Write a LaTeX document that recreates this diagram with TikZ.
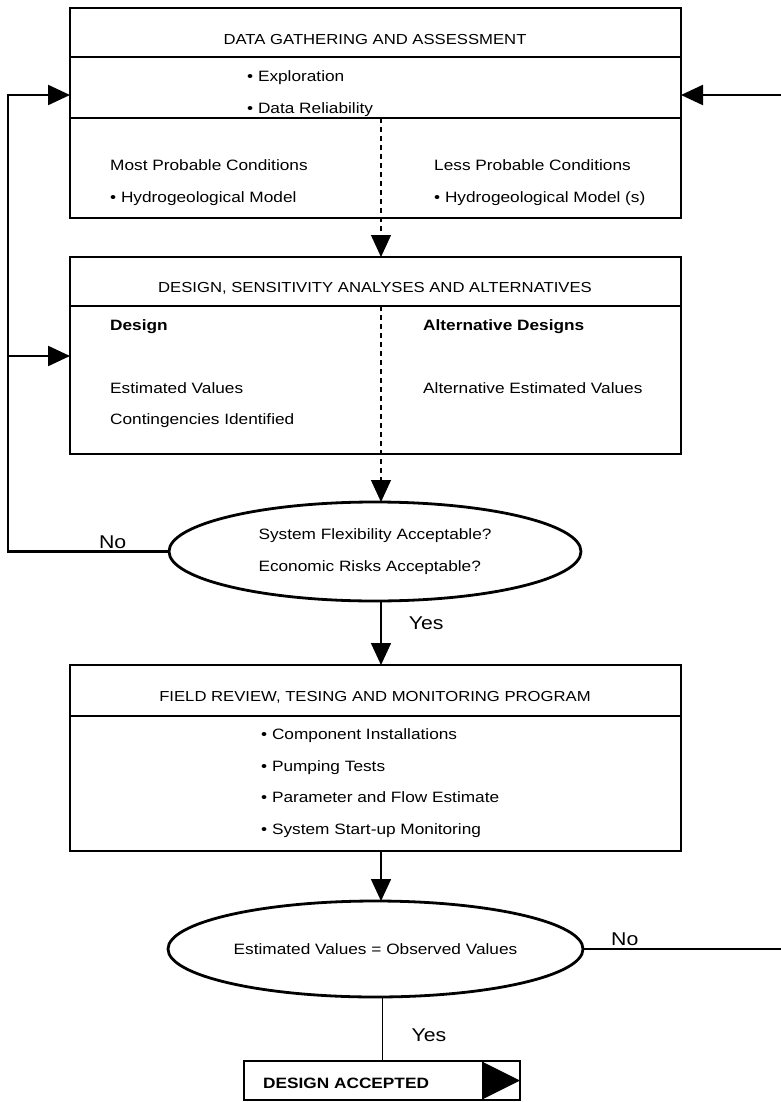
\documentclass[tikz,border=0pt]{standalone}
\usepackage{fontspec}
\setmainfont{Liberation Sans}[FakeStretch=1.15]
\usetikzlibrary{positioning, shapes.geometric, arrows.meta}
\tikzset{
    x=1pt, y=-1pt, % pixel-like units, y runs downwards
    box/.style={draw, line width=2.8pt, inner sep=0pt, outer sep=0pt}, % framed stages
    decision/.style={ellipse, draw, line width=2.8pt, inner sep=0pt, outer sep=0pt,
        align=left, font=\fontsize{15}{32}\selectfont}, % question ovals
    boxtitle/.style={anchor=base, font=\fontsize{14.5}{17}\selectfont}, % stage headings
    body/.style={anchor=base west, inner sep=0pt, font=\fontsize{15}{18}\selectfont}, % stage contents
    divider/.style={line width=1.4pt}, % lines inside a stage
    tip/.style={-{Triangle[length=22pt, width=20pt]}}, % filled arrowheads
    flow/.style={tip, line width=1.6pt},
    dashflow/.style={tip, line width=1.1pt, dash pattern=on 5pt off 4pt},
    rail/.style={line width=2.3pt}, % feedback loops
    answer/.style={font=\fontsize{18.5}{20}\selectfont, inner sep=2pt},
}

\begin{document}
\begin{tikzpicture}
    \useasboundingbox (0,0) rectangle (780,1102);

    % stages
    \node[box, minimum width=611pt, minimum height=210pt] (gather) at (375.5,113) {};
    \node[box, minimum width=611pt, minimum height=197pt] (design) at (375.5,355.5) {};
    \node[decision, minimum width=412pt, minimum height=99pt] (check) at (375,551.5)
        {System Flexibility Acceptable?\\Economic Risks Acceptable?};
    \node[box, minimum width=611pt, minimum height=186pt] (field) at (375.5,758) {};
    \node[decision, minimum width=415pt, minimum height=96pt] (verify) at (375.5,949)
        {Estimated Values = Observed Values};
    \node[box, line width=2.2pt, minimum width=276pt, minimum height=39pt] (accept) at (382,1080.5) {};

    \draw[divider] ([yshift=-49pt]gather.north west) -- ([yshift=-49pt]gather.north east);
    \draw[divider] ([yshift=-110pt]gather.north west) -- ([yshift=-110pt]gather.north east);
    \draw[divider] ([yshift=-49pt]design.north west) -- ([yshift=-49pt]design.north east);
    \draw[divider] ([yshift=-51pt]field.north west) -- ([yshift=-51pt]field.north east);
    \draw[divider, line width=1.5pt] ([xshift=-37pt]accept.north east) -- ([xshift=-37pt]accept.south east);
    \fill ([xshift=-36pt, yshift=-1.5pt]accept.north east) -- (accept.east)
        -- ([xshift=-36pt, yshift=1.5pt]accept.south east) -- cycle;

    % texts
    \node[boxtitle] (gather-title) at (375,45) {DATA GATHERING AND ASSESSMENT};
    \node[body] (explore) at (247,82) {• Exploration};
    \node[body] (reliable) at (247,113.5) {• Data Reliability};
    \node[body] (most) at (110,170.5) {Most Probable Conditions};
    \node[body] (most-model) at (110,202.5) {• Hydrogeological Model};
    \node[body] (less) at (434,170.5) {Less Probable Conditions};
    \node[body] (less-model) at (434,202.5) {• Hydrogeological Model (s)};

    \node[boxtitle] (design-title) at (375,292.5) {DESIGN, SENSITIVITY ANALYSES AND ALTERNATIVES};
    \node[body, font=\fontsize{15}{18}\selectfont\bfseries] (base) at (110,330.5) {Design};
    \node[body] (base-values) at (110,393.5) {Estimated Values};
    \node[body] (base-risks) at (110,424.5) {Contingencies Identified};
    \node[body, font=\fontsize{15}{18}\selectfont\bfseries] (alt) at (423,330.5) {Alternative Designs};
    \node[body] (alt-values) at (423,393.5) {Alternative Estimated Values};

    \node[boxtitle] (field-title) at (375,701.5) {FIELD REVIEW, TESING AND MONITORING PROGRAM};
    \node[body] (install) at (261,739.5) {• Component Installations};
    \node[body] (pumping) at (261,771.5) {• Pumping Tests};
    \node[body] (estimate) at (261,802.5) {• Parameter and Flow Estimate};
    \node[body] (startup) at (261,834.5) {• System Start-up Monitoring};

    \node[body, font=\fontsize{15}{18}\selectfont\bfseries] (accept-text) at (263,1088.5) {DESIGN ACCEPTED};

    % connectors
    \coordinate (spine) at (381,0);
    \coordinate (gather-split) at (381,118);
    \coordinate (design-split) at (381,306);
    \coordinate (rail-left) at (8,95);
    \coordinate (rail-mid) at (8,356);
    \coordinate (rail-right) at (782,95);

    \draw[dashflow] (gather-split) -- (design.north -| spine);
    \draw[dashflow] (design-split) -- (check.north -| spine);
    \draw[flow] (check.south -| spine) -- node[answer, pos=0.35, right, xshift=25pt] {Yes} (field.north -| spine);
    \draw[flow] (field.south -| spine) -- (verify.north -| spine);
    \draw[line width=1pt] (verify.south -| accept.north) -- node[answer, pos=0.6, right, xshift=27pt] {Yes} (accept.north);

    \draw[rail, tip] (check.west) -- node[answer, above, pos=0.35] {No} (check.west -| rail-left)
        -- (rail-left) -- (rail-left -| gather.west);
    \draw[rail, tip] (rail-mid) -- (rail-mid -| design.west);
    \draw[rail, tip] (verify.east) -- node[answer, above, pos=0.21] {No} (verify.east -| rail-right)
        -- (rail-right) -- (rail-right -| gather.east);
\end{tikzpicture}
\end{document}
